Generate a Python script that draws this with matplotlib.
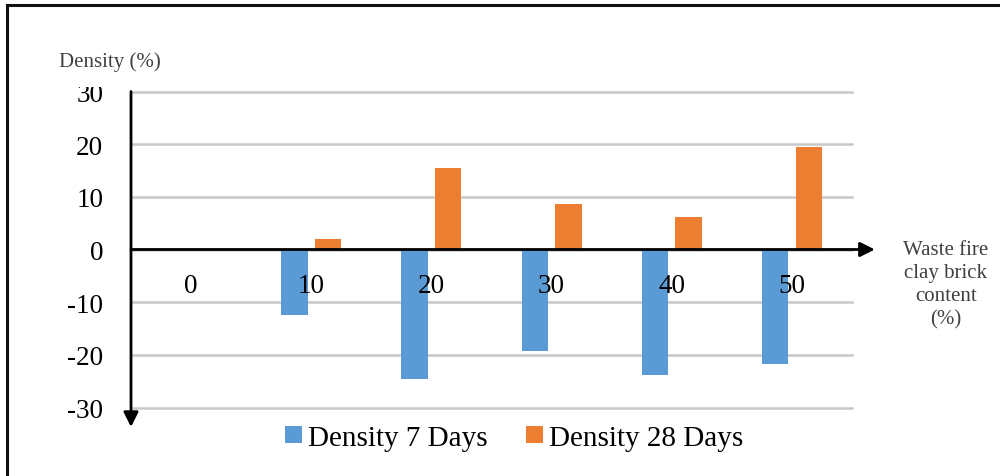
import matplotlib
matplotlib.use("Agg")
import matplotlib.pyplot as plt
from matplotlib.lines import Line2D
from matplotlib.transforms import Bbox, TransformedBbox
import numpy as np

categories = ["0", "10", "20", "30", "40", "50"]
density_7 = [0.0, -12.4, -24.5, -19.2, -23.9, -21.7]
density_28 = [0.0, 2.0, 15.5, 8.6, 6.1, 19.5]
yticks = [-30, -20, -10, 0, 10, 20, 30]
series_names = ["Density 7 Days", "Density 28 Days"]
colors = ["#5B9BD5", "#ED7D31"]

plt.rcParams['font.family'] = ['Liberation Serif', 'DejaVu Serif']

W, H = 1000, 477
fig = plt.figure(figsize=(W / 100, H / 100), dpi=100)
ax = fig.add_axes([131 / W, 1 - 408.5 / H, (852 - 131) / W, (408.5 - 92.5) / H])

x = np.arange(len(categories))
bw = 0.22
b1 = ax.bar(x - 0.14, density_7, bw, color=colors[0], zorder=3, label=series_names[0])
b2 = ax.bar(x + 0.14, density_28, bw, color=colors[1], zorder=3, label=series_names[1])

ax.set_xlim(-0.5, len(categories) - 0.5)
ax.set_ylim(-30, 30)
ax.set_yticks(yticks)
ax.set_yticklabels([str(v) for v in yticks])
ax.tick_params(axis='y', length=0, pad=20, labelsize=19.5, colors='black')
ax.set_xticks([])
for s in ax.spines.values():
    s.set_visible(False)
ax.grid(axis='y', color='#C8C8C8', lw=1.8, zorder=0)
ax.set_axisbelow(True)
for gl in ax.get_ygridlines():
    gl.set_clip_on(False)

# clip the top "30" label like the original
clipbox = TransformedBbox(Bbox([[0, 0], [1, 1 - 88 / H]]), fig.transFigure)
for lab in ax.get_yticklabels():
    if lab.get_text() == "30":
        lab.set_clip_on(True)
        lab.set_clip_box(clipbox)

# category labels
for xi, c in zip(x, categories):
    ax.text(xi, -6.9, c, ha='center', va='center', fontsize=19.5, color='black', zorder=4)

# axes with arrows
ax.annotate("", xy=(5.69, 0), xytext=(-0.5, 0), xycoords='data',
            arrowprops=dict(arrowstyle='-|>', color='black', lw=2, mutation_scale=22,
                            shrinkA=0, shrinkB=0), annotation_clip=False, zorder=5)
ax.annotate("", xy=(-0.5, -33.7), xytext=(-0.5, 30), xycoords='data',
            arrowprops=dict(arrowstyle='-|>', color='black', lw=2, mutation_scale=22,
                            shrinkA=0, shrinkB=0), annotation_clip=False, zorder=5)

# axis titles
fig.text(59 / W, 1 - 62 / H, "Density (%)", ha='left', va='center', fontsize=15, color='#404040')
fig.text(946 / W, 1 - 285 / H, "Waste fire\nclay brick\ncontent\n(%)", ha='center', va='center',
         fontsize=15, color='#404040', linespacing=1.3)

# legend
leg = fig.legend(handles=[b1, b2], labels=series_names, loc='center',
                 bbox_to_anchor=(514 / W, 1 - 439 / H), ncol=2, frameon=False,
                 fontsize=21, handlelength=0.6, handleheight=0.55, handletextpad=0.2,
                 columnspacing=1.3, borderpad=0)

# outer frame
fig.add_artist(Line2D([7 / W, 1], [1 - 6 / H, 1 - 6 / H], color='#111111', lw=2.2, transform=fig.transFigure))
fig.add_artist(Line2D([7 / W, 7 / W], [0, 1 - 6 / H], color='#111111', lw=2.2, transform=fig.transFigure))

fig.savefig("out.png", dpi=100)
